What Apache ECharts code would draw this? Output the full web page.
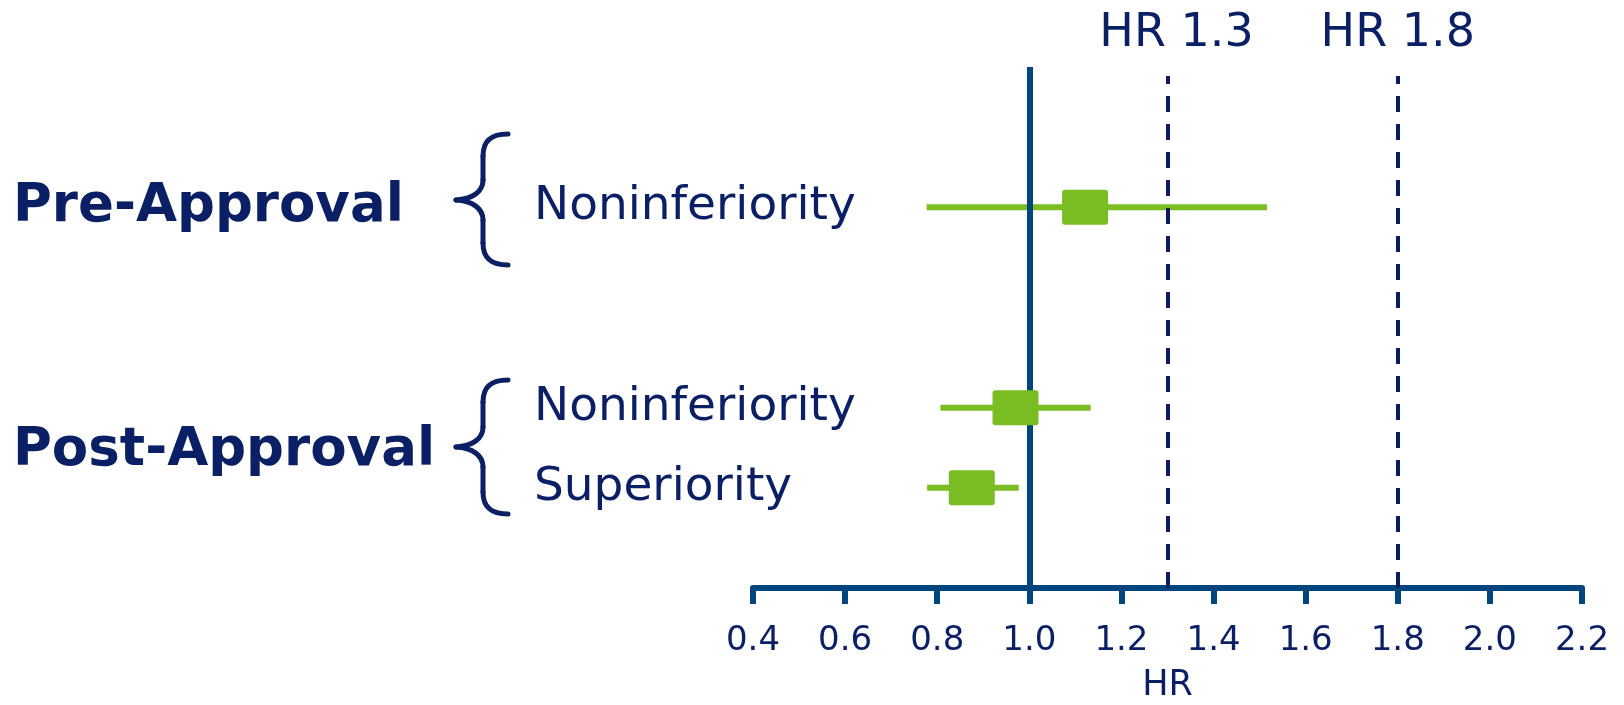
<!DOCTYPE html>
<html><head><meta charset="utf-8">
<script src="https://cdn.jsdelivr.net/npm/echarts@6/dist/echarts.min.js"></script>
<style>html,body{margin:0;padding:0;background:#fff}#c{width:1624px;height:705px}</style>
</head><body><div id="c"></div>
<script>
// ---- data ----
const yCategories = ['', '', '', 'Noninferiority', '', '', '', '', 'Noninferiority', '', 'Superiority', '', ''];
const ciLow  = [null, null, null, 0.777, null, null, null, null, 0.807, null, 0.778, null, null];
const hrEst  = [null, null, null, 1.121, null, null, null, null, 0.970, null, 0.875, null, null];
const ciHigh = [null, null, null, 1.516, null, null, null, null, 1.133, null, 0.977, null, null];
const xMin = 0.4, xMax = 2.2, xStep = 0.2;
const refLine = 1.0;
const marginValues = [1.3, 1.8];
const marginLabels = ['HR 1.3', 'HR 1.8'];
const groupLabels = ['Pre-Approval', 'Post-Approval'];
const axisName = 'HR';

// ---- styles ----
const NAVY = '#0b1f65';
const AXIS = '#00457e';
const DASH = '#0a1e5e';
const GREEN = '#7abd22';
const FONT = 'DejaVu Sans';

const rows = [];
yCategories.forEach((c, i) => {
  if (hrEst[i] != null) rows.push([ciLow[i], hrEst[i], ciHigh[i], i]);
});

function brace(yTop, yMid, yBot) {
  const xe = 508, xv = 483, xt = 456;
  const st = {fill: null, stroke: NAVY, lineWidth: 5, lineCap: 'round'};
  const bz = (x1, y1, c1x, c1y, c2x, c2y, x2, y2) => ({type: 'bezierCurve',
    shape: {x1, y1, cpx1: c1x, cpy1: c1y, cpx2: c2x, cpy2: c2y, x2, y2}, style: st});
  const ln = (x1, y1, x2, y2) => ({type: 'line', shape: {x1, y1, x2, y2}, style: st});
  return {type: 'group', children: [
    bz(xe, yTop, xe - 16, yTop, xv, yTop + 6, xv, yTop + 22),
    ln(xv, yTop + 22, xv, yMid - 20),
    bz(xv, yMid - 20, xv, yMid - 8, xt + 16, yMid - 1, xt, yMid),
    bz(xt, yMid, xt + 16, yMid + 1, xv, yMid + 8, xv, yMid + 20),
    ln(xv, yMid + 20, xv, yBot - 22),
    bz(xv, yBot - 22, xv, yBot - 6, xe - 16, yBot, xe, yBot)
  ]};
}

const chart = echarts.init(document.getElementById('c'), null, {renderer: 'canvas'});
chart.setOption({
  animation: false,
  backgroundColor: '#fff',
  textStyle: {fontFamily: FONT},
  grid: [
    {left: 753, right: 42, top: 67, bottom: 117, outerBoundsMode: 'none', containLabel: false},
    {left: 753, right: 42, top: 76, bottom: 117, outerBoundsMode: 'none', containLabel: false}
  ],
  xAxis: [
    {
      type: 'value', gridIndex: 0, min: xMin, max: xMax, interval: xStep,
      name: axisName, nameLocation: 'middle', nameGap: 80,
      nameTextStyle: {color: NAVY, fontSize: 35, fontFamily: FONT},
      axisLine: {show: true, lineStyle: {color: AXIS, width: 6}},
      axisTick: {show: true, length: 16, lineStyle: {color: AXIS, width: 6}},
      axisLabel: {color: NAVY, fontSize: 34, fontFamily: FONT, margin: 36,
        formatter: v => v.toFixed(1)},
      splitLine: {show: false}
    },
    {
      type: 'value', gridIndex: 1, min: xMin, max: xMax, interval: xStep, show: false
    }
  ],
  yAxis: [
    {
      type: 'category', gridIndex: 0, data: yCategories, inverse: true,
      axisLine: {show: false}, axisTick: {show: false}, splitLine: {show: false},
      axisLabel: {align: 'left', margin: 219, color: NAVY, fontSize: 47, fontFamily: FONT, interval: 0}
    },
    {type: 'value', gridIndex: 1, min: 0, max: 1, show: false}
  ],
  series: [
    {
      type: 'custom', name: 'ci', xAxisIndex: 0, yAxisIndex: 0, z: 1,
      encode: {x: [0, 1, 2], y: 3},
      data: rows,
      renderItem: (params, api) => {
        const yi = api.value(3);
        const p1 = api.coord([api.value(0), yi]);
        const p2 = api.coord([api.value(2), yi]);
        return {type: 'line', shape: {x1: p1[0], y1: p1[1], x2: p2[0], y2: p2[1]},
          style: {stroke: GREEN, lineWidth: 6}};
      }
    },
    {
      type: 'line', name: 'ref', xAxisIndex: 0, yAxisIndex: 0, z: 2,
      data: [], showSymbol: false,
      markLine: {
        silent: true, symbol: ['none', 'none'], z: 2, animation: false,
        label: {show: false},
        lineStyle: {color: AXIS, width: 6, type: 'solid'},
        data: [{xAxis: refLine}]
      }
    },
    {
      type: 'line', name: 'margins', xAxisIndex: 1, yAxisIndex: 1, z: 2,
      data: [], showSymbol: false,
      markLine: {
        silent: true, symbol: ['none', 'none'], z: 2, animation: false,
        lineStyle: {color: DASH, width: 4, type: [16, 12]},
        label: {show: true, position: 'end', distance: 19, color: NAVY, fontSize: 46,
          fontFamily: FONT, lineHeight: 46},
        data: marginValues.map((v, i) => ({
          xAxis: v,
          label: {formatter: marginLabels[i], padding: i === 0 ? [0, 0, 0, 18] : 0}
        }))
      }
    },
    {
      type: 'custom', name: 'est', xAxisIndex: 0, yAxisIndex: 0, z: 10,
      encode: {x: 1, y: 3},
      data: rows,
      renderItem: (params, api) => {
        const c = api.coord([api.value(1), api.value(3)]);
        return {type: 'rect', shape: {x: c[0] - 23, y: c[1] - 17.5, width: 46, height: 35, r: 3},
          style: {fill: GREEN}};
      }
    }
  ],
  graphic: [
    {type: 'text', x: 13, y: 207, style: {text: groupLabels[0], fill: NAVY,
      font: `bold 53px "${FONT}"`, verticalAlign: 'middle'}},
    {type: 'text', x: 13, y: 451, style: {text: groupLabels[1], fill: NAVY,
      font: `bold 53px "${FONT}"`, verticalAlign: 'middle'}},
    brace(134, 200, 265),
    brace(380, 447, 514)
  ]
});
</script></body></html>
